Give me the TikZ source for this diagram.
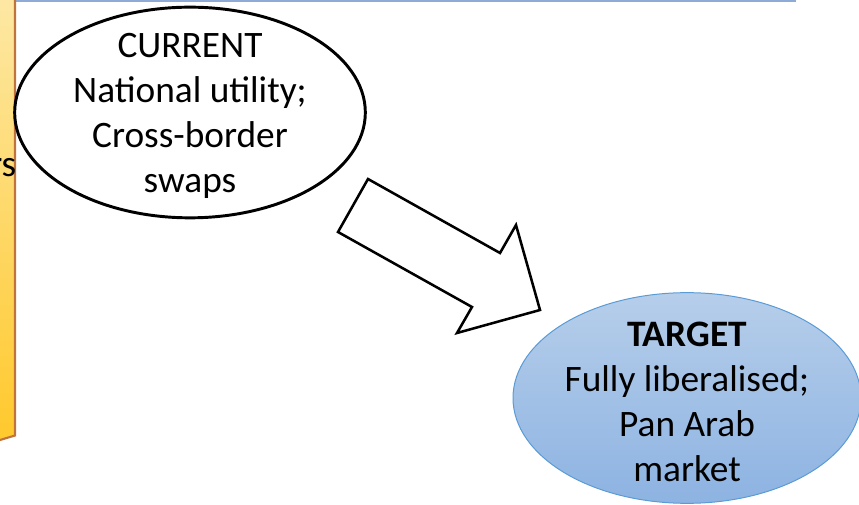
\documentclass[tikz,border=0pt]{standalone}
\usepackage{fontspec}
\setmainfont{Carlito}
\usetikzlibrary{shapes.geometric}
\definecolor{rectTop}{HTML}{FDE8A6}
\definecolor{rectBot}{HTML}{FFC92C}
\definecolor{rectLine}{HTML}{C0743C}
\definecolor{topLine}{HTML}{8EAAD6}
\definecolor{tgtTop}{HTML}{B6CEEA}
\definecolor{tgtBot}{HTML}{8DB3E2}
\definecolor{tgtLine}{HTML}{5B9BD5}
\begin{document}
\begin{tikzpicture}[x=0.75pt,y=-0.75pt,
  txt/.style={font=\fontsize{28}{33.75}\selectfont, align=center, inner sep=0pt},
  curell/.style={ellipse, draw=black, line width=2.2pt, fill=white, minimum width=263pt, minimum height=158pt, inner sep=0pt},
  tgtell/.style={ellipse, draw=tgtLine, line width=0.75pt, top color=tgtTop, bottom color=tgtBot, minimum width=261pt, minimum height=158pt, inner sep=0pt},
  blockarrow/.style={draw=black, fill=white, line width=1.9pt, line join=miter}]
\useasboundingbox (0,0) rectangle (859,505);
\clip (0,0) rectangle (859,505);
% top line
\coordinate (tl1) at (15,1);
\coordinate (tl2) at (796,1);
\draw[topLine, line width=1.4pt] (tl1) -- (tl2);
% left box
\fill[top color=rectTop, bottom color=rectBot] (-10,-10) -- (15,-10) -- (15,435.5) -- (-10,443) -- cycle;
\draw[rectLine, line width=1.6pt] (15,-10) -- (15,435.5) -- (-10,443);
\node[txt, anchor=base east] (rs) at (16.5,177) {rs};
% current
\node[curell] (cur) at (190,112.5) {};
\node[txt] (curtxt) at (190,116) {CURRENT\\National utility;\\Cross-border\\swaps};
% block arrow
\draw[blockarrow] (368,179) -- (500,253) -- (516,225) -- (540,310) -- (457,333) -- (472,307) -- (338,232) -- cycle;
% target
\node[tgtell] (tgt) at (687,398) {};
\node[txt] (tgttxt) at (687,402) {\textbf{TARGET}\\Fully liberalised;\\Pan Arab\\market};
\end{tikzpicture}
\end{document}
